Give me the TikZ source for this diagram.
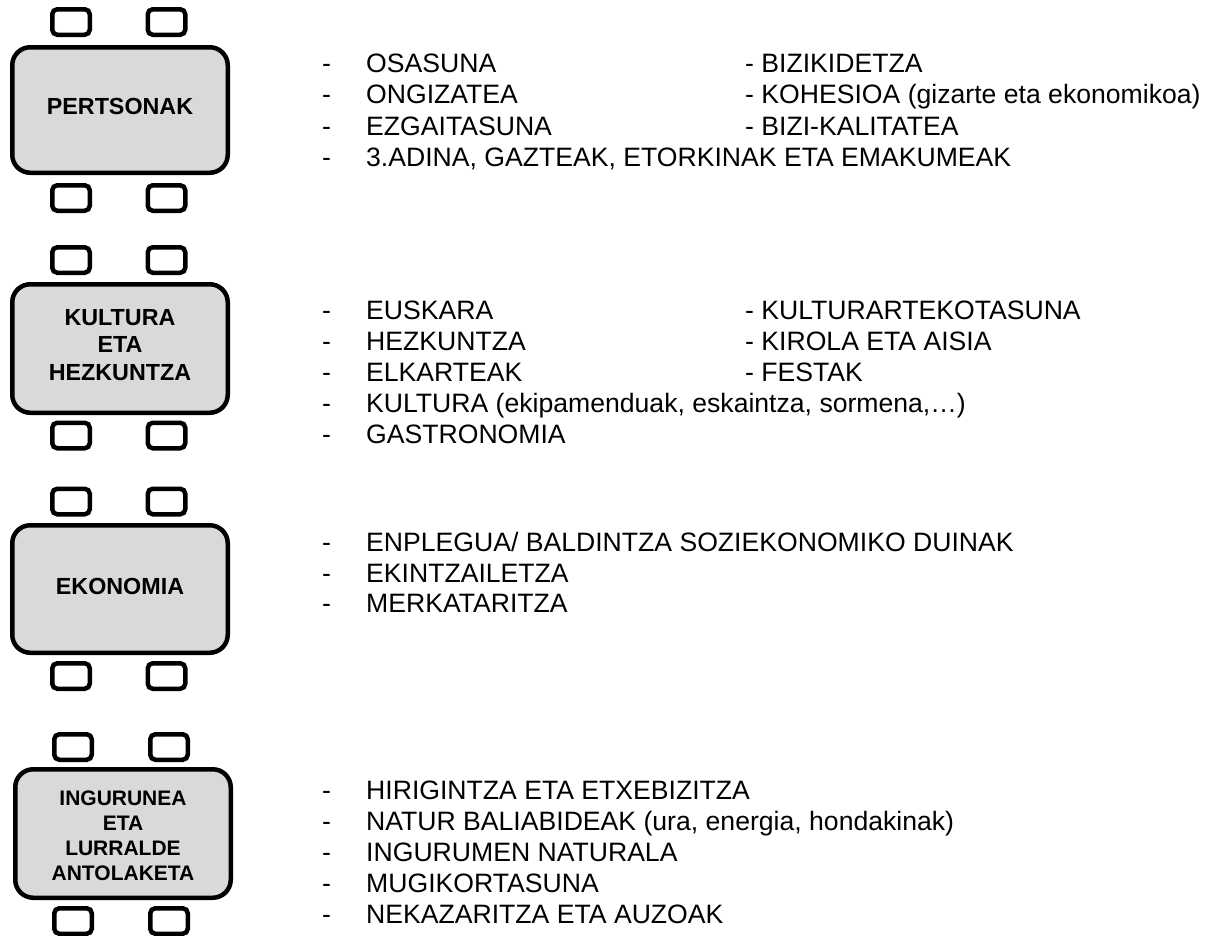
\documentclass[tikz,border=0pt]{standalone}
\usepackage{fontspec}
\setmainfont{Liberation Sans}
\definecolor{tablegray}{RGB}{217,217,217}
\begin{document}
\begin{tikzpicture}[x=1pt,y=-1pt,
  tbl/.style={draw=black, line width=4.5pt, fill=tablegray, rounded corners=18pt,
    minimum width=215.5pt, inner sep=0pt},
  lbl/.style={inner sep=0pt, align=center, font=\bfseries\fontsize{23.3}{27.7}\selectfont},
  lblsmall/.style={inner sep=0pt, align=center, font=\bfseries\fontsize{21}{25}\selectfont},
  chair/.style={draw=black, line width=4.5pt, fill=white, rounded corners=5pt,
    minimum width=37.5pt, minimum height=25.5pt, inner sep=0pt},
  itm/.style={anchor=base west, inner sep=0pt, font=\fontsize{26.6}{31}\selectfont},
]
\useasboundingbox (0,0) rectangle (1215,935);

% ---------- Block 1 : PERTSONAK ----------
\node[chair] (c1a) at (71,22) {};
\node[chair] (c1b) at (166.5,22) {};
\node[tbl, minimum height=125.5pt] (tab1) at (120,110) {};
\node[lbl] (lab1) at (120,106) {PERTSONAK};
\node[chair] (c1c) at (71,198) {};
\node[chair] (c1d) at (166.5,198) {};

\node[itm] (d11) at (322,72) {-};
\node[itm] (t11) at (366,72) {OSASUNA};
\node[itm] (u11) at (745,72) {- BIZIKIDETZA};
\node[itm] (d12) at (322,103.5) {-};
\node[itm] (t12) at (366,103.5) {ONGIZATEA};
\node[itm] (u12) at (745,103.5) {- KOHESIOA (gizarte eta ekonomikoa)};
\node[itm] (d13) at (322,135) {-};
\node[itm] (t13) at (366,135) {EZGAITASUNA};
\node[itm] (u13) at (745,135) {- BIZI-KALITATEA};
\node[itm] (d14) at (322,166.5) {-};
\node[itm] (t14) at (366,166.5) {3.ADINA, GAZTEAK, ETORKINAK ETA EMAKUMEAK};

% ---------- Block 2 : KULTURA ETA HEZKUNTZA ----------
\node[chair] (c2a) at (71,260) {};
\node[chair] (c2b) at (166.5,260) {};
\node[tbl, minimum height=128.5pt] (tab2) at (120,348.5) {};
\node[lbl] (lab2) at (120,345) {KULTURA\\ETA\\HEZKUNTZA};
\node[chair] (c2c) at (71,435.5) {};
\node[chair] (c2d) at (166.5,435.5) {};

\node[itm] (d21) at (322,319) {-};
\node[itm] (t21) at (366,319) {EUSKARA};
\node[itm] (u21) at (745,319) {- KULTURARTEKOTASUNA};
\node[itm] (d22) at (322,350) {-};
\node[itm] (t22) at (366,350) {HEZKUNTZA};
\node[itm] (u22) at (745,350) {- KIROLA ETA AISIA};
\node[itm] (d23) at (322,381) {-};
\node[itm] (t23) at (366,381) {ELKARTEAK};
\node[itm] (u23) at (745,381) {- FESTAK};
\node[itm] (d24) at (322,412) {-};
\node[itm] (t24) at (366,412) {KULTURA (ekipamenduak, eskaintza, sormena,…)};
\node[itm] (d25) at (322,443) {-};
\node[itm] (t25) at (366,443) {GASTRONOMIA};

% ---------- Block 3 : EKONOMIA ----------
\node[chair] (c3a) at (71,501.5) {};
\node[chair] (c3b) at (166.5,501.5) {};
\node[tbl, minimum height=127.5pt] (tab3) at (120,589) {};
\node[lbl] (lab3) at (120,586) {EKONOMIA};
\node[chair] (c3c) at (71,676) {};
\node[chair] (c3d) at (166.5,676) {};

\node[itm] (d31) at (322,551.5) {-};
\node[itm] (t31) at (366,551.5) {ENPLEGUA/ BALDINTZA SOZIEKONOMIKO DUINAK};
\node[itm] (d32) at (322,582) {-};
\node[itm] (t32) at (366,582) {EKINTZAILETZA};
\node[itm] (d33) at (322,612.5) {-};
\node[itm] (t33) at (366,612.5) {MERKATARITZA};

% ---------- Block 4 : INGURUNEA ETA LURRALDE ANTOLAKETA ----------
\node[chair] (c4a) at (73,747) {};
\node[chair] (c4b) at (169,747) {};
\node[tbl, minimum height=128.5pt] (tab4) at (123,833.5) {};
\node[lblsmall] (lab4) at (123,835.5) {INGURUNEA\\ETA\\LURRALDE\\ANTOLAKETA};
\node[chair] (c4c) at (73,921) {};
\node[chair] (c4d) at (169,921) {};

\node[itm] (d41) at (322,799.5) {-};
\node[itm] (t41) at (366,799.5) {HIRIGINTZA ETA ETXEBIZITZA};
\node[itm] (d42) at (322,830.5) {-};
\node[itm] (t42) at (366,830.5) {NATUR BALIABIDEAK (ura, energia, hondakinak)};
\node[itm] (d43) at (322,861.5) {-};
\node[itm] (t43) at (366,861.5) {INGURUMEN NATURALA};
\node[itm] (d44) at (322,892.5) {-};
\node[itm] (t44) at (366,892.5) {MUGIKORTASUNA};
\node[itm] (d45) at (322,923.5) {-};
\node[itm] (t45) at (366,923.5) {NEKAZARITZA ETA AUZOAK};
\end{tikzpicture}
\end{document}
